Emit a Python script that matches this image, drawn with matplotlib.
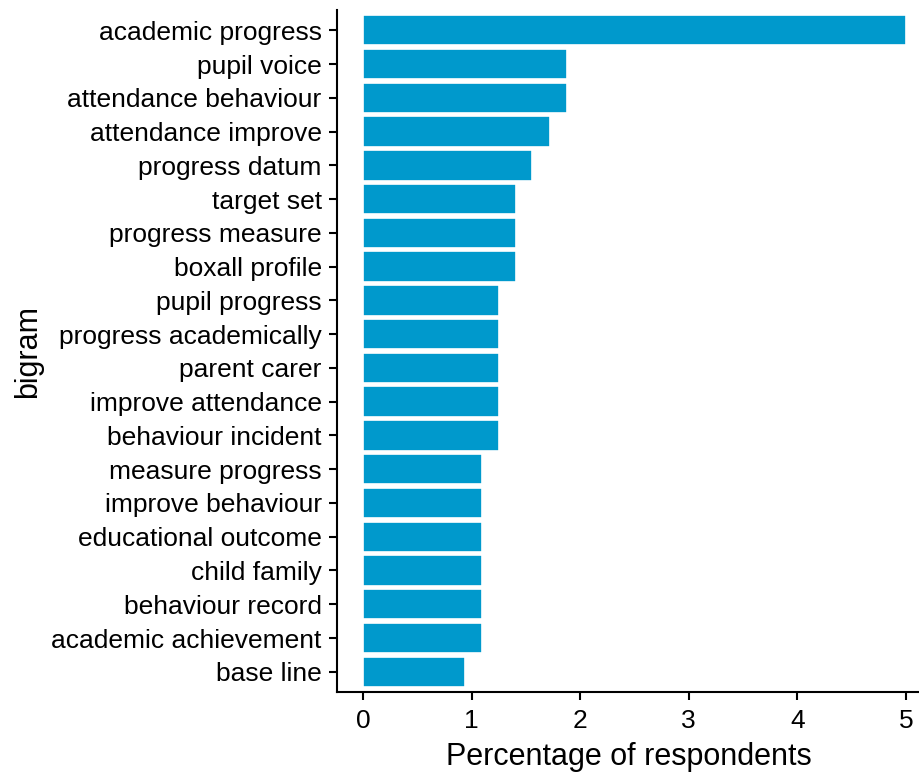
import matplotlib
matplotlib.use("Agg")
from matplotlib import pyplot as plt
import numpy as np

# bigrams, top to bottom as in the chart
bigrams = ["academic progress", "pupil voice", "attendance behaviour", "attendance improve",
           "progress datum", "target set", "progress measure", "boxall profile",
           "pupil progress", "progress academically", "parent carer", "improve attendance",
           "behaviour incident", "measure progress", "improve behaviour", "educational outcome",
           "child family", "behaviour record", "academic achievement", "base line"]
pct = [5.0, 1.88, 1.88, 1.72, 1.56, 1.41, 1.41, 1.41, 1.25, 1.25, 1.25, 1.25, 1.25,
       1.10, 1.10, 1.10, 1.10, 1.10, 1.10, 0.94]
xticks = [0, 1, 2, 3, 4, 5]

plt.rcParams['font.family'] = ['Liberation Sans', 'DejaVu Sans']

fig = plt.figure(figsize=(9.2, 7.78), dpi=100)
ax = fig.add_axes([0.3663, 0.1105, 0.6337, 0.8766])

y_pos = np.arange(len(bigrams))[::-1]
ax.barh(y_pos, pct, height=0.9, color='#0099CC', edgecolor='white', linewidth=1.2)

ax.set_yticks(y_pos)
ax.set_yticklabels(bigrams)
ax.set_xticks(xticks)
ax.set_xlim(-0.24, 5.13)
ax.set_ylim(-0.6, len(bigrams) - 1 + 0.6)

# classic theme: only left and bottom axis lines
for s in ['top', 'right']:
    ax.spines[s].set_visible(False)
for s in ['left', 'bottom']:
    ax.spines[s].set_linewidth(1.5)
ax.tick_params(axis='both', labelsize=19, width=1.5, length=6, color='black', labelcolor='black')
ax.tick_params(axis='y', pad=5)
ax.tick_params(axis='x', pad=6)

ax.set_xlabel('Percentage of respondents', fontsize=22, labelpad=7)
ax.set_ylabel('bigram', fontsize=22, labelpad=6)

fig.savefig('out.png', dpi=100)
